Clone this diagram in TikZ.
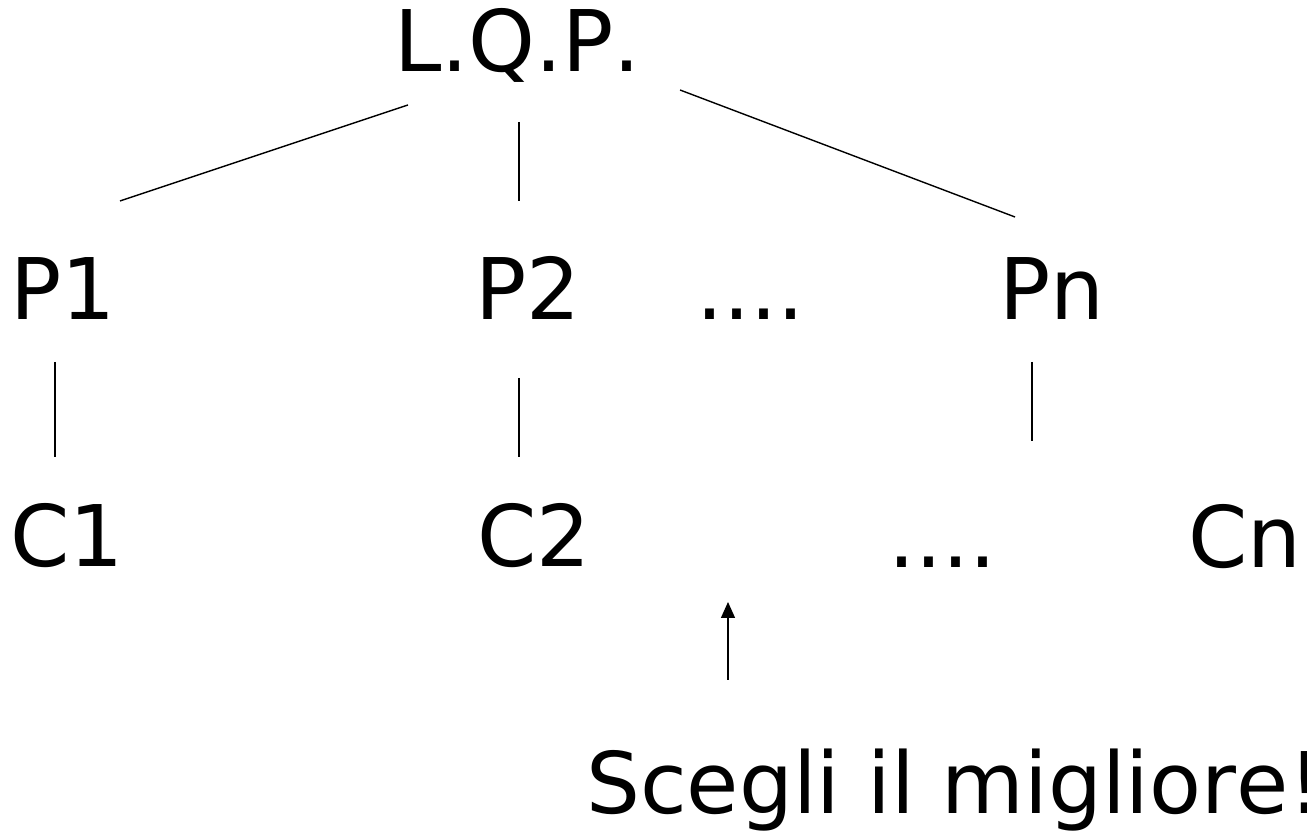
\documentclass[tikz,border=0pt]{standalone}
\usepackage{fontspec}
\setmainfont{DejaVu Sans}[Kerning=Off]
\usetikzlibrary{arrows.meta}
\newcommand{\linew}{1.4pt}
\newcommand{\txtsize}{\fontsize{85}{100}\selectfont}

\begin{document}
\begin{tikzpicture}[x=1pt, y=1pt, >={Triangle[width=14pt, length=16pt]},
    lbl/.style={inner sep=0pt, anchor=base west, font=\txtsize},
    edge/.style={line width=\linew}]
    \useasboundingbox (0, 0) rectangle (1307, 834);

    % root
    \node [lbl] (lqp) at (394, 762) {L.Q.P.};

    % first level
    \node [lbl] (p1) at (10, 514) {P1};
    \node [lbl] (p2) at (475, 514) {P2};
    \node [lbl] (pdots) at (696, 514) {....};
    \node [lbl] (pn) at (999, 514) {Pn};

    % second level
    \node [lbl] (c1) at (10, 267) {C1};
    \node [lbl] (c2) at (477, 267) {C2};
    \node [lbl] (cdots) at (888, 266) {....};
    \node [lbl] (cn) at (1188, 266) {Cn};

    % note
    \node [lbl] (best) at (586, 20) {Scegli il migliore!};

    % free ends
    \coordinate (pnend) at (1032, 393);
    \coordinate (tip) at (728, 232);

    % tree edges
    \draw [edge] ([shift={(14,-33)}]lqp.base west) -- ([shift={(110,119)}]p1.base west);
    \draw [edge] ([shift={(125,-50)}]lqp.base west) -- ([shift={(44,119)}]p2.base west);
    \draw [edge] ([shift={(286,-18)}]lqp.base west) -- ([shift={(16,103)}]pn.base west);
    \draw [edge] ([shift={(45,-42)}]p1.base west) -- ([shift={(45,110)}]c1.base west);
    \draw [edge] ([shift={(44,-58)}]p2.base west) -- ([shift={(42,110)}]c2.base west);
    \draw [edge] ([shift={(33,-42)}]pn.base west) -- (pnend);

    % arrow
    \draw [edge, ->] ([shift={(142,134)}]best.base west) -- (tip);
\end{tikzpicture}
\end{document}
